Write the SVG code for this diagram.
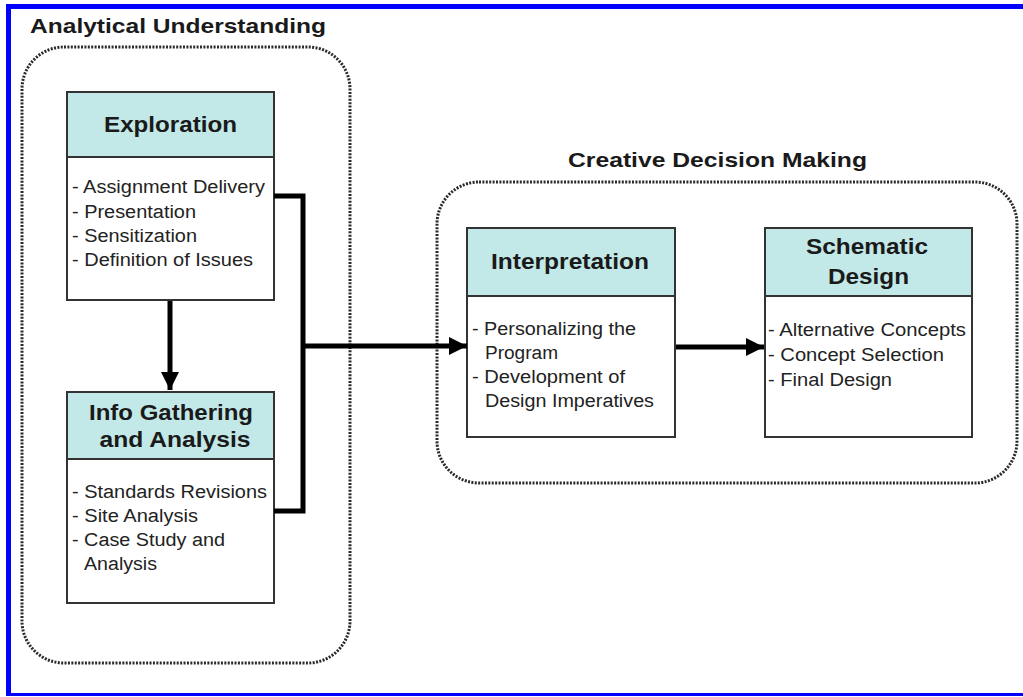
<svg xmlns="http://www.w3.org/2000/svg" width="1023" height="697" viewBox="0 0 1023 697">
<defs>
<style>
.frame{stroke:#0000ff;fill:none}
.group{fill:none;stroke:#2a2a2a;stroke-width:3;stroke-dasharray:2 1.4}
.box{fill:#fff;stroke:#333;stroke-width:2}
.hdr{fill:#c2e8e8;stroke:#333;stroke-width:2}
.t{font-family:"Liberation Sans",Arial,sans-serif;fill:#1a1a1a}
.title{font-size:21px;font-weight:bold}
.h{font-size:22px;font-weight:bold;text-anchor:middle}
.b{font-size:18px;fill:#222}
.conn{fill:none;stroke:#000;stroke-width:5}
</style>
<marker id="ah" viewBox="0 0 10 10" refX="10" refY="5" markerUnits="userSpaceOnUse" markerWidth="18" markerHeight="18" orient="auto">
<path d="M0,0 L10,5 L0,10 z" fill="#000"/>
</marker>
</defs>
<rect width="1023" height="697" fill="#fff"/>
<g id="frame">
<line class="frame" x1="8.5" y1="4" x2="8.5" y2="696" stroke-width="5"/>
<line class="frame" x1="6" y1="6.5" x2="1023" y2="6.5" stroke-width="5"/>
<line class="frame" x1="6" y1="694.5" x2="1023" y2="694.5" stroke-width="3"/>
</g>
<g id="analytical">
<rect class="group" x="22" y="47" width="328" height="616" rx="42" ry="42"/>
<text class="t title" x="30" y="33" textLength="296" lengthAdjust="spacingAndGlyphs">Analytical Understanding</text>
</g>
<g id="creative">
<rect class="group" x="437" y="182" width="580" height="301" rx="42" ry="42"/>
<text class="t title" x="568" y="167" textLength="299" lengthAdjust="spacingAndGlyphs">Creative Decision Making</text>
</g>
<g id="exploration">
<rect class="box" x="67" y="92" width="207" height="208"/>
<rect class="hdr" x="67" y="92" width="207" height="65"/>
<text class="t h" x="170.5" y="132" textLength="133" lengthAdjust="spacingAndGlyphs">Exploration</text>
<text class="t b" x="72" y="193" textLength="193" lengthAdjust="spacingAndGlyphs">- Assignment Delivery</text>
<text class="t b" x="72" y="218" textLength="124" lengthAdjust="spacingAndGlyphs">- Presentation</text>
<text class="t b" x="72" y="242" textLength="125" lengthAdjust="spacingAndGlyphs">- Sensitization</text>
<text class="t b" x="72" y="266" textLength="181" lengthAdjust="spacingAndGlyphs">- Definition of Issues</text>
</g>
<g id="info">
<rect class="box" x="67" y="392" width="207" height="211"/>
<rect class="hdr" x="67" y="392" width="207" height="67"/>
<text class="t h" x="171" y="420" textLength="164" lengthAdjust="spacingAndGlyphs">Info Gathering</text>
<text class="t h" x="175" y="447" textLength="151" lengthAdjust="spacingAndGlyphs">and Analysis</text>
<text class="t b" x="72" y="498" textLength="195" lengthAdjust="spacingAndGlyphs">- Standards Revisions</text>
<text class="t b" x="72" y="522" textLength="126" lengthAdjust="spacingAndGlyphs">- Site Analysis</text>
<text class="t b" x="72" y="546" textLength="153" lengthAdjust="spacingAndGlyphs">- Case Study and</text>
<text class="t b" x="84" y="570" textLength="73" lengthAdjust="spacingAndGlyphs">Analysis</text>
</g>
<g id="interpretation">
<rect class="box" x="467" y="228" width="208" height="209"/>
<rect class="hdr" x="467" y="228" width="208" height="68"/>
<text class="t h" x="570" y="269" textLength="158" lengthAdjust="spacingAndGlyphs">Interpretation</text>
<text class="t b" x="472" y="335" textLength="164" lengthAdjust="spacingAndGlyphs">- Personalizing the</text>
<text class="t b" x="485" y="359" textLength="73" lengthAdjust="spacingAndGlyphs">Program</text>
<text class="t b" x="472" y="383" textLength="153" lengthAdjust="spacingAndGlyphs">- Development of</text>
<text class="t b" x="485" y="407" textLength="169" lengthAdjust="spacingAndGlyphs">Design Imperatives</text>
</g>
<g id="schematic">
<rect class="box" x="765" y="228" width="207" height="209"/>
<rect class="hdr" x="765" y="228" width="207" height="68"/>
<text class="t h" x="867" y="254" textLength="122" lengthAdjust="spacingAndGlyphs">Schematic</text>
<text class="t h" x="868.5" y="284" textLength="81" lengthAdjust="spacingAndGlyphs">Design</text>
<text class="t b" x="768" y="336" textLength="198" lengthAdjust="spacingAndGlyphs">- Alternative Concepts</text>
<text class="t b" x="768" y="361" textLength="176" lengthAdjust="spacingAndGlyphs">- Concept Selection</text>
<text class="t b" x="768" y="386" textLength="124" lengthAdjust="spacingAndGlyphs">- Final Design</text>
</g>
<g id="connectors">
<line class="conn" x1="170" y1="301" x2="170" y2="390" marker-end="url(#ah)"/>
<polyline class="conn" points="274,196 303,196 303,511 274,511"/>
<line class="conn" x1="303" y1="346" x2="467" y2="346" marker-end="url(#ah)"/>
<line class="conn" x1="676" y1="347" x2="764" y2="347" marker-end="url(#ah)"/>
</g>
</svg>
